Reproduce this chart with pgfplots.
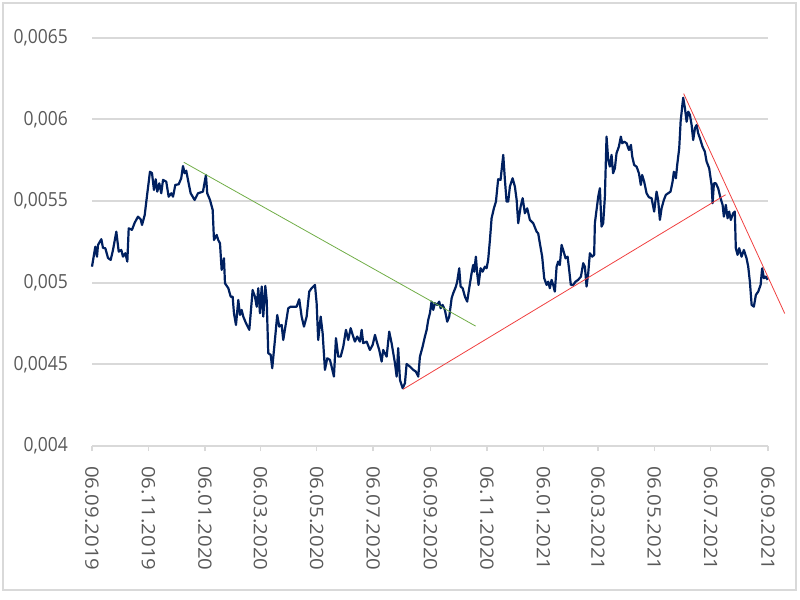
\documentclass[border=0pt]{standalone}
\usepackage{pgfplots}
\pgfplotsset{compat=1.18}
\usepackage{pgfplotstable}
\usepackage{fontspec}
\setmainfont{Open Sans}

\definecolor{navy}{HTML}{002060}
\definecolor{gridgray}{HTML}{D9D9D9}
\definecolor{labelgray}{HTML}{595959}
\definecolor{trendgreen}{HTML}{70AD47}
\definecolor{trendred}{HTML}{F04040}

% day index counted from 06.09.2019
\pgfplotstableread{
d v
0 0.005098
3.6 0.005220
5.4 0.005159
6.5 0.005231
10.1 0.005266
11.9 0.005212
14.4 0.005211
17.3 0.005151
20.2 0.005139
22.7 0.005200
26.3 0.005312
28.9 0.005190
31.7 0.005200
33.5 0.005159
36.0 0.005180
38.2 0.005129
39.7 0.005333
43.2 0.005323
46.2 0.005367
49.7 0.005404
52.6 0.005388
54.1 0.005353
57.0 0.005414
59.8 0.005547
62.7 0.005679
64.9 0.005670
67.0 0.005567
68.9 0.005633
70.6 0.005557
72.8 0.005608
74.9 0.005547
76.8 0.005629
80.3 0.005618
82.9 0.005526
85.7 0.005547
87.6 0.005526
90.1 0.005598
93.7 0.005602
96.5 0.005639
98.4 0.005714
100.2 0.005670
101.9 0.005685
104.5 0.005608
106.7 0.005547
111.0 0.005506
114.6 0.005547
120.0 0.005557
123.2 0.005659
124.6 0.005547
127.6 0.005506
130.5 0.005445
131.9 0.005261
134.8 0.005292
136.5 0.005261
138.4 0.005241
140.2 0.005078
142.7 0.005149
143.8 0.004996
147.4 0.004966
150.0 0.004914
152.1 0.004914
153.5 0.004813
155.7 0.004741
158.2 0.004894
160.0 0.004802
161.8 0.004833
163.6 0.004792
166.5 0.004752
170.1 0.004711
173.7 0.004955
176.2 0.004914
178.1 0.004853
179.8 0.004966
181.6 0.004813
183.5 0.004976
185.2 0.004792
187.4 0.004980
188.9 0.004894
190.6 0.004568
193.2 0.004558
194.9 0.004476
197.8 0.004649
200.3 0.004802
202.5 0.004731
205.1 0.004741
206.8 0.004649
209.7 0.004752
212.2 0.004843
214.8 0.004853
221.3 0.004853
224.1 0.004898
226.7 0.004792
229.2 0.004731
232.1 0.004792
234.9 0.004945
237.5 0.004966
241.1 0.004986
242.9 0.004874
244.6 0.004649
247.3 0.004792
249.4 0.004690
251.9 0.004466
254.4 0.004537
257.3 0.004527
259.1 0.004486
261.6 0.004425
263.8 0.004660
266.3 0.004547
268.9 0.004547
271.7 0.004608
274.6 0.004711
277.1 0.004649
279.7 0.004721
281.9 0.004680
284.3 0.004639
286.8 0.004670
289.7 0.004639
291.6 0.004711
293.3 0.004629
297.0 0.004639
300.5 0.004588
303.5 0.004619
306.0 0.004680
308.4 0.004629
310.6 0.004588
313.2 0.004517
314.9 0.004588
318.6 0.004547
321.4 0.004700
324.0 0.004629
327.6 0.004507
329.4 0.004425
331.1 0.004599
333.0 0.004405
335.9 0.004354
338.4 0.004384
340.2 0.004502
343.8 0.004486
347.4 0.004466
350.3 0.004455
352.8 0.004425
354.6 0.004547
357.5 0.004608
360.0 0.004670
361.9 0.004711
363.6 0.004772
365.4 0.004813
367.2 0.004884
369.0 0.004833
370.8 0.004874
373.3 0.004864
375.5 0.004884
377.0 0.004843
379.1 0.004864
381.6 0.004833
384.1 0.004761
386.3 0.004792
388.9 0.004905
390.6 0.004935
393.5 0.004976
394.9 0.005006
397.1 0.005088
398.6 0.004976
400.8 0.004966
403.3 0.004914
405.7 0.004884
407.9 0.004966
410.5 0.005058
412.2 0.005108
413.3 0.005067
415.1 0.005159
416.5 0.005058
418.0 0.004986
420.2 0.005088
422.4 0.005067
424.9 0.005098
426.7 0.005088
428.4 0.005139
430.3 0.005261
432.1 0.005394
434.6 0.005455
436.8 0.005496
439.2 0.005633
441.8 0.005629
444.7 0.005782
446.5 0.005629
448.3 0.005496
450.1 0.005496
451.9 0.005588
454.8 0.005639
457.3 0.005588
459.2 0.005506
460.9 0.005364
463.5 0.005465
465.7 0.005517
468.1 0.005425
470.6 0.005455
473.5 0.005384
477.1 0.005364
480.8 0.005312
482.5 0.005302
484.3 0.005241
486.8 0.005159
489.0 0.005027
491.6 0.004986
493.3 0.005006
495.1 0.004966
497.0 0.005017
498.7 0.004986
500.5 0.004945
502.4 0.005098
504.1 0.005129
505.9 0.005108
507.8 0.005231
509.5 0.005200
512.1 0.005149
514.3 0.005159
516.0 0.005078
517.8 0.004986
520.3 0.004986
522.9 0.005006
525.7 0.005017
528.7 0.005037
531.2 0.005119
533.0 0.005098
534.8 0.004976
536.6 0.005058
538.4 0.005180
540.9 0.005159
543.0 0.005170
543.8 0.005364
545.6 0.005445
547.4 0.005526
549.2 0.005578
551.0 0.005343
552.8 0.005364
554.6 0.005526
556.4 0.005894
558.2 0.005751
560.0 0.005710
561.8 0.005782
563.5 0.005670
565.4 0.005700
567.2 0.005792
569.7 0.005832
571.9 0.005894
573.3 0.005853
575.5 0.005863
578.1 0.005853
580.6 0.005812
582.8 0.005843
584.2 0.005771
586.3 0.005720
588.9 0.005710
591.4 0.005670
593.5 0.005598
594.9 0.005659
597.1 0.005618
599.7 0.005547
602.2 0.005523
605.1 0.005517
607.9 0.005435
610.5 0.005557
612.2 0.005506
614.1 0.005384
615.9 0.005455
618.4 0.005506
620.5 0.005537
623.0 0.005547
625.6 0.005557
627.8 0.005618
629.2 0.005679
631.4 0.005639
632.8 0.005720
635.0 0.005823
636.5 0.005985
638.2 0.006077
639.3 0.006132
641.2 0.006067
643.0 0.005985
644.7 0.006047
646.6 0.006026
648.4 0.005965
650.1 0.005873
652.0 0.005945
653.8 0.005965
655.5 0.005914
657.4 0.005884
660.2 0.005832
662.7 0.005802
664.6 0.005741
667.4 0.005700
670.0 0.005598
671.1 0.005486
672.5 0.005608
674.6 0.005608
677.1 0.005578
679.7 0.005517
681.9 0.005476
683.3 0.005404
685.4 0.005476
687.3 0.005394
689.0 0.005435
690.8 0.005384
693.3 0.005425
695.1 0.005435
696.2 0.005211
698.1 0.005170
699.8 0.005211
702.4 0.005159
704.9 0.005200
707.8 0.005149
709.6 0.005098
711.4 0.005006
713.3 0.004864
715.7 0.004853
717.9 0.004925
720.4 0.004945
723.0 0.004986
724.7 0.005088
726.6 0.005027
728.7 0.005037
730.5 0.005017
}\rate

\pgfplotstableread{
d v
99.2 0.005737
414.8 0.004734
}\trendA
\pgfplotstableread{
d v
336.4 0.004347
685.1 0.005538
}\trendB
\pgfplotstableread{
d v
639.8 0.006157
749.1 0.004811
}\trendC

\begin{document}
\begin{tikzpicture}
\path[use as bounding box] (0,0) rectangle (800bp,600bp);
\draw[gridgray, line width=1.5bp] (3bp,10bp) rectangle (796bp,597bp);
\begin{axis}[
  at={(92bp,154bp)}, anchor=south west,
  scale only axis, width=676bp, height=408.4bp,
  xmin=0, xmax=731, ymin=0.004, ymax=0.0065,
  clip=false,
  axis x line*=bottom, axis y line*=left,
  x axis line style={draw=gridgray, line width=2bp, -},
  y axis line style={draw=none},
  xtick={0,61,122,182,243,304,366,427,488,547,608,669,731},
  xticklabels={06.09.2019,06.11.2019,06.01.2020,06.03.2020,06.05.2020,06.07.2020,06.09.2020,06.11.2020,06.01.2021,06.03.2021,06.05.2021,06.07.2021,06.09.2021},
  ytick={0.004,0.0045,0.005,0.0055,0.006,0.0065},
  yticklabels={{0,004},{0,0045},{0,005},{0,0055},{0,006},{0,0065}},
  scaled y ticks=false,
  tick align=outside, major tick length=5bp,
  xtick style={draw=gridgray, line width=1.5bp},
  ytick style={draw=none},
  ymajorgrids, grid style={gridgray, line width=2bp},
  xticklabel style={font=\fontsize{20.5}{21}\selectfont, text=labelgray, rotate=-90, yscale=0.9, anchor=west, inner sep=0pt},
  yticklabel style={font=\fontsize{19.5}{20}\selectfont, text=labelgray, xscale=0.9, anchor=east, inner sep=0pt},
  xticklabel shift=15bp, yticklabel shift=19bp,
]
\addplot[navy, line width=2.2bp, line join=round] table[x=d, y=v] {\rate};
\addplot[trendgreen, line width=0.8bp] table[x=d, y=v] {\trendA};
\addplot[trendred, line width=0.8bp] table[x=d, y=v] {\trendB};
\addplot[trendred, line width=0.8bp] table[x=d, y=v] {\trendC};
\end{axis}
\end{tikzpicture}
\end{document}
